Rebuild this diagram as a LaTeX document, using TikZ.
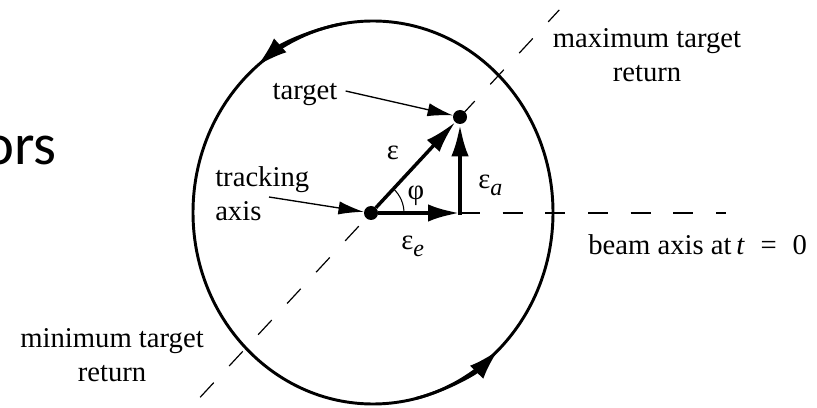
\documentclass[tikz,border=0pt]{standalone}
\usepackage{fontspec}
\setmainfont{Liberation Serif}
\newfontfamily\slidefont{Carlito}
\usetikzlibrary{arrows.meta,positioning,calc}
\newcommand{\epsub}[1]{ε\raisebox{-0.55ex}{\fontsize{18}{18}\selectfont\textit{#1}}}

\begin{document}
\begin{tikzpicture}[
        x=0.75pt, y=0.75pt,
        lbl/.style={font=\fontsize{21.5}{25.5}\selectfont, inner sep=0pt},
        vec/.style={line width=3.2pt, -{Latex[length=24pt,width=13pt]}},
        lead/.style={line width=1pt, -{Latex[length=19pt,width=10pt]}},
        dot/.style={circle, fill, inner sep=0pt, minimum size=10.5pt},
        axisline/.style={line width=0.9pt, dash pattern=on 15pt off 17pt},
        loop/.style={line width=2.2pt},
        >=Latex
    ]
        \useasboundingbox (0,0) rectangle (817,407);
        \node[anchor=base west, inner sep=0pt, font=\slidefont\fontsize{44}{50}\selectfont] (ors) at (-17,242) {ors};

        \coordinate (ctr) at (373,194.5);
        \node[dot] (track) at (371,194) {};
        \node[dot] (tgt) at (460,290) {};
        \coordinate (corner) at (460,194);
        \coordinate (beamend) at (726,194);
        \coordinate (maxend) at ($(track)!2.115!(tgt)$);
        \coordinate (minend) at ($(track)!-1.92!(tgt)$);

        \draw[loop] (ctr) ellipse[x radius=180, y radius=191.5];
        \draw[loop, -{Latex[length=23pt,width=14pt]}] (ctr) ++(100:180 and 191.5)
            arc[start angle=100, end angle=130, x radius=180, y radius=191.5];
        \draw[loop, -{Latex[length=23pt,width=14pt]}] (ctr) ++(-76:180 and 191.5)
            arc[start angle=-76, end angle=-46, x radius=180, y radius=191.5];

        \draw[axisline] (corner) -- (beamend);
        \draw[axisline] (minend) -- (maxend);

        \draw[vec, line width=2.6pt] (track) -- (tgt);
        \draw[vec] (track) -- (corner);
        \draw[vec, shorten <=-1.6pt] (corner) -- (tgt);
        \draw[line width=0.8pt] (track) ++(33,0) arc[start angle=0, end angle=47, radius=33];

        \node[lbl] (eps) at (393,254) {ε};
        \node[lbl] (phi) at (416,211) {φ};
        \node[lbl, anchor=west] (epsa) at (478,222) {\epsub{a}};
        \node[lbl, anchor=west] (epse) at (401,161) {\epsub{e}};

        \node[lbl] (tgtlbl) at (305,312) {target};
        \draw[lead] (tgtlbl.east) ++(8,4) -- (tgt);

        \node[lbl, align=left, anchor=west] (trk) at (215,213) {tracking\\axis};
        \coordinate (trkarr) at (269,210);
        \draw[lead] (trkarr) -- (track);

        \node[lbl, align=center] (maxlbl) at (647,352) {maximum target\\return};
        \node[lbl, anchor=west] (beam) at (588,162) {beam axis at\,\textit{t}\hspace{0.55em}=\hspace{0.55em}0};
        \node[lbl, align=center] (minlbl) at (112,52) {minimum target\\return};
    \end{tikzpicture}
\end{document}
